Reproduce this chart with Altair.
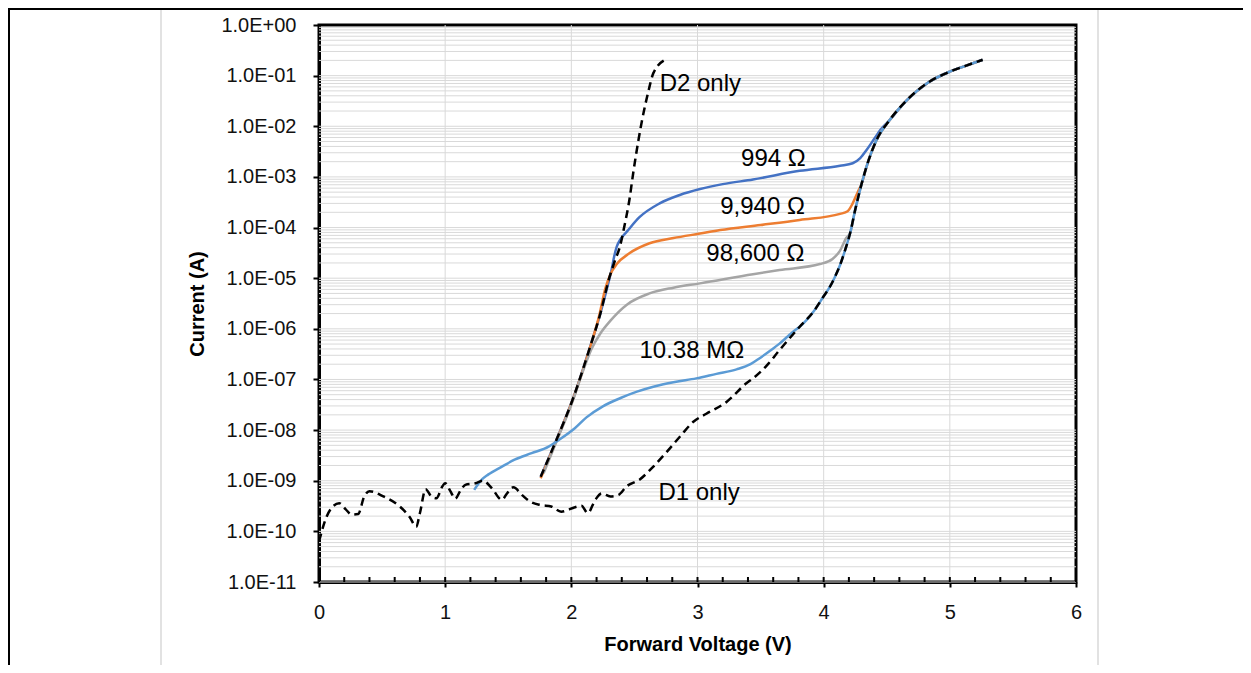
import altair as alt
import pandas as pd

# ---------------- data ----------------
d1_v = [0.00, 0.06, 0.11, 0.16, 0.21, 0.26, 0.31, 0.36, 0.40, 0.51, 0.64, 0.72, 0.77, 0.80,
        0.845, 0.89, 0.93, 0.98, 1.00, 1.04, 1.08, 1.12, 1.16, 1.24, 1.30, 1.37, 1.45, 1.49,
        1.54, 1.61, 1.67, 1.76, 1.84, 1.92, 2.03, 2.08, 2.13, 2.19, 2.24, 2.31, 2.37, 2.44,
        2.54, 2.65, 2.76, 2.86, 2.97, 3.07, 3.23, 3.39, 3.44, 3.55, 3.65, 3.81, 3.92, 4.00,
        4.05, 4.09, 4.13, 4.17, 4.21, 4.25, 4.30, 4.34, 4.42, 4.52, 4.66, 4.82, 5.00, 5.13,
        5.26]
d1_i = [6.3e-11, 1.95e-10, 3.1e-10, 3.6e-10, 2.75e-10, 2.15e-10, 2.2e-10, 5.0e-10, 6.2e-10,
        4.9e-10, 3.1e-10, 1.9e-10, 1.23e-10, 2.3e-10, 6.8e-10, 4.9e-10, 4.5e-10, 7.9e-10,
        8.9e-10, 6.3e-10, 4.4e-10, 6.3e-10, 8.3e-10, 8.9e-10, 1.0e-9, 7.1e-10, 4.2e-10,
        5.6e-10, 7.4e-10, 5.2e-10, 3.9e-10, 3.3e-10, 3.1e-10, 2.45e-10, 3.0e-10, 3.2e-10,
        2.3e-10, 4.2e-10, 5.6e-10, 4.9e-10, 5.2e-10, 7.8e-10, 1.05e-9, 1.9e-9, 3.8e-9,
        7.4e-9, 1.48e-8, 2.1e-8, 3.6e-8, 8.5e-8, 1.05e-7, 1.9e-7, 3.8e-7, 1.1e-6, 2.2e-6,
        4.4e-6, 6.8e-6, 1.07e-5, 1.82e-5, 3.6e-5, 7.8e-5, 2.24e-4, 7.2e-4, 1.6e-3, 5.4e-3,
        1.3e-2, 3.3e-2, 7.1e-2, 1.2e-1, 1.58e-1, 2.05e-1]

d2_v = [1.757, 1.883, 2.015, 2.15, 2.23, 2.30, 2.345, 2.385, 2.42, 2.46, 2.49, 2.53, 2.565,
        2.61, 2.65, 2.75]
d2_i = [1.2e-9, 6.5e-9, 4.3e-8, 4.5e-7, 2.0e-6, 1.0e-5, 2.2e-5, 4.2e-5, 1.05e-4, 3.5e-4,
        1.17e-3, 5.0e-3, 1.5e-2, 4.8e-2, 1.12e-1, 2.1e-1]

r994_v = [1.757, 1.883, 2.015, 2.15, 2.23, 2.29, 2.32, 2.34, 2.36, 2.39, 2.44, 2.54, 2.70,
          2.86, 3.02, 3.20, 3.44, 3.81, 4.13, 4.23, 4.29, 4.34, 4.40, 4.45, 4.52, 4.66, 4.82,
          5.00, 5.13, 5.26]
r994_i = [1.2e-9, 6.5e-9, 4.3e-8, 4.5e-7, 2.0e-6, 7.4e-6, 1.5e-5, 2.7e-5, 4.2e-5, 5.9e-5,
          8.3e-5, 1.6e-4, 3.0e-4, 4.4e-4, 5.75e-4, 7.2e-4, 8.9e-4, 1.32e-3, 1.66e-3, 1.86e-3,
          2.35e-3, 3.4e-3, 5.6e-3, 8.5e-3, 1.3e-2, 3.3e-2, 7.1e-2, 1.2e-1, 1.58e-1, 2.05e-1]

r9940_v = [1.757, 1.883, 2.015, 2.15, 2.22, 2.27, 2.31, 2.36, 2.46, 2.62, 2.81, 3.02, 3.18,
           3.50, 3.81, 4.13, 4.19, 4.23, 4.27, 4.30, 4.34, 4.42, 4.52, 4.66, 4.82, 5.00,
           5.13, 5.26]
r9940_i = [1.12e-9, 6.3e-9, 4.2e-8, 4.4e-7, 1.78e-6, 6.3e-6, 1.2e-5, 1.9e-5, 3.1e-5, 4.9e-5,
           6.2e-5, 7.6e-5, 8.9e-5, 1.12e-4, 1.41e-4, 1.86e-4, 2.1e-4, 3.0e-4, 5.0e-4, 7.2e-4,
           1.6e-3, 5.4e-3, 1.3e-2, 3.3e-2, 7.1e-2, 1.2e-1, 1.58e-1, 2.05e-1]

r98600_v = [1.78, 1.883, 2.015, 2.09, 2.16, 2.23, 2.31, 2.44, 2.62, 2.81, 3.02, 3.44, 3.65,
            3.97, 4.07, 4.13, 4.18, 4.21, 4.25, 4.30, 4.34, 4.42, 4.52, 4.66, 4.82, 5.00,
            5.13, 5.26]
r98600_i = [1.41e-9, 6.0e-9, 4.0e-8, 1.41e-7, 4.0e-7, 8.1e-7, 1.45e-6, 3.0e-6, 5.0e-6,
            6.5e-6, 7.9e-6, 1.2e-5, 1.45e-5, 1.9e-5, 2.4e-5, 3.5e-5, 6.3e-5, 7.8e-5, 2.24e-4,
            7.2e-4, 1.6e-3, 5.4e-3, 1.3e-2, 3.3e-2, 7.1e-2, 1.2e-1, 1.58e-1, 2.05e-1]

r10m_v = [1.23, 1.29, 1.34, 1.45, 1.55, 1.685, 1.82, 1.88, 2.03, 2.12, 2.25, 2.39, 2.52, 2.65,
          2.82, 2.99, 3.15, 3.31, 3.42, 3.49, 3.57, 3.65, 3.71, 3.76, 3.81, 3.92, 4.00, 4.05,
          4.09, 4.13, 4.17, 4.21, 4.25, 4.30, 4.34, 4.42, 4.52, 4.66, 4.82, 5.00, 5.13, 5.26]
r10m_i = [6.6e-10, 1.05e-9, 1.32e-9, 1.9e-9, 2.6e-9, 3.5e-9, 4.7e-9, 5.9e-9, 1.1e-8, 1.78e-8,
          2.95e-8, 4.3e-8, 5.75e-8, 7.2e-8, 8.9e-8, 1.05e-7, 1.29e-7, 1.58e-7, 2.0e-7,
          2.6e-7, 3.6e-7, 5.1e-7, 6.9e-7, 8.9e-7, 1.1e-6, 2.2e-6, 4.4e-6, 6.8e-6, 1.07e-5,
          1.82e-5, 3.6e-5, 7.8e-5, 2.24e-4, 7.2e-4, 1.6e-3, 5.4e-3, 1.3e-2, 3.3e-2, 7.1e-2,
          1.2e-1, 1.58e-1, 2.05e-1]

label_text = ["D2 only", "994 Ω", "9,940 Ω", "98,600 Ω", "10.38 MΩ", "D1 only"]
label_v = [2.70, 3.345, 3.18, 3.07, 2.54, 2.69]
label_i = [6.8e-2, 2.26e-3, 2.57e-4, 3.0e-5, 3.6e-7, 5.75e-10]

x_major = [0, 1, 2, 3, 4, 5, 6]
x_grid = [1, 2, 3, 4, 5]
x_minor = [round(0.2 * k, 1) for k in range(0, 31)]
y_major = [1e-11, 1e-10, 1e-9, 1e-8, 1e-7, 1e-6, 1e-5, 1e-4, 1e-3, 1e-2, 1e-1, 1e0]
y_grid = [m * 10.0 ** e for e in range(-11, 0) for m in range(1, 10)]

# ---------------- layout ----------------
W, H = 757, 557
FONT = "Liberation Sans"

xscale = alt.Scale(domain=[0, 6], nice=False, zero=False)
yscale = alt.Scale(type="log", domain=[1e-11, 1], nice=False)

ylabel_expr = ("'1.0E' + (round(log(datum.value)/LN10) < 0 ? '-' : '+') + "
               "(abs(round(log(datum.value)/LN10)) < 10 ? '0' : '') + "
               "abs(round(log(datum.value)/LN10))")

yaxis = alt.Axis(
    values=y_major, labelExpr=ylabel_expr, title="Current (A)",
    grid=False, tickSize=6, tickWidth=2, tickColor="black",
    domainColor="black", domainWidth=3, labelPadding=17, labelFlush=False,
    labelFontSize=20, labelColor="#111", titleFontSize=20,
    titleFontWeight="bold", titlePadding=13, titleColor="black")
xaxis = alt.Axis(
    values=x_major, format="d", title="Forward Voltage (V)",
    grid=False, tickSize=5, tickWidth=2, tickColor="black",
    domainColor="black", domainWidth=3, labelPadding=15, labelFlush=False,
    labelFontSize=20, labelColor="#111", titleFontSize=20,
    titleFontWeight="bold", titlePadding=12, titleColor="black")


def X(field):
    return alt.X(field, scale=xscale, axis=xaxis)


def Y(field):
    return alt.Y(field, scale=yscale, axis=yaxis)


hgrid = alt.Chart(pd.DataFrame({"y": y_grid})).mark_rule(
    color="#d9d9d9", strokeWidth=1
).encode(y=Y("y:Q"))

vgrid = alt.Chart(pd.DataFrame({"x": x_grid})).mark_rule(
    color="#d9d9d9", strokeWidth=1
).encode(x=X("x:Q"))

minor_ticks = alt.Chart(pd.DataFrame({"x": x_minor})).mark_rule(
    color="black", strokeWidth=2
).encode(x=X("x:Q"), y=alt.value(H - 5), y2=alt.value(H))


def curve(vs, cs, color, dash=None, width=2.5):
    df = pd.DataFrame({"v": vs, "i": cs})
    kw = dict(color=color, strokeWidth=width, interpolate="monotone", clip=True)
    if dash is not None:
        kw["strokeDash"] = dash
    return alt.Chart(df).mark_line(**kw).encode(
        x=X("v:Q"), y=Y("i:Q"), order="v:Q")


c994 = curve(r994_v, r994_i, "#4472C4")
c9940 = curve(r9940_v, r9940_i, "#ED7D31")
c98600 = curve(r98600_v, r98600_i, "#A5A5A5")
c10m = curve(r10m_v, r10m_i, "#5B9BD5")
cd1 = curve(d1_v, d1_i, "black", dash=[8, 5])
cd2 = curve(d2_v, d2_i, "black", dash=[8, 5])

labels = alt.Chart(pd.DataFrame({"t": label_text, "v": label_v, "i": label_i})).mark_text(
    align="left", baseline="middle", fontSize=24, font=FONT, color="black"
).encode(x=X("v:Q"), y=Y("i:Q"), text="t:N")

# decorative frame of the surrounding figure
one = pd.DataFrame({"a": [0]})
frame_left = alt.Chart(one).mark_rule(color="black", strokeWidth=2).encode(
    x=alt.value(-310), y=alt.value(-17), y2=alt.value(H + 83))
frame_top = alt.Chart(one).mark_rule(color="black", strokeWidth=2).encode(
    x=alt.value(-311), x2=alt.value(W + 167), y=alt.value(-16))
gray_l = alt.Chart(one).mark_rule(color="#d9d9d9", strokeWidth=1.5).encode(
    x=alt.value(-158), y=alt.value(-15), y2=alt.value(H + 83))
gray_r = alt.Chart(one).mark_rule(color="#d9d9d9", strokeWidth=1.5).encode(
    x=alt.value(779), y=alt.value(-15), y2=alt.value(H + 83))

chart = alt.layer(
    hgrid, vgrid, minor_ticks,
    c994, c9940, c98600, c10m, cd1, cd2,
    labels, frame_left, frame_top, gray_l, gray_r,
).properties(
    width=W, height=H,
    padding={"left": 311, "top": 17, "right": 167, "bottom": 83},
    autosize=alt.AutoSizeParams(type="none"),
    background="white",
).configure_view(
    stroke="black", strokeWidth=3
).configure_axis(
    labelFont=FONT, titleFont=FONT
)

chart.save("out.html", embed_options={"renderer": "svg", "actions": False})
